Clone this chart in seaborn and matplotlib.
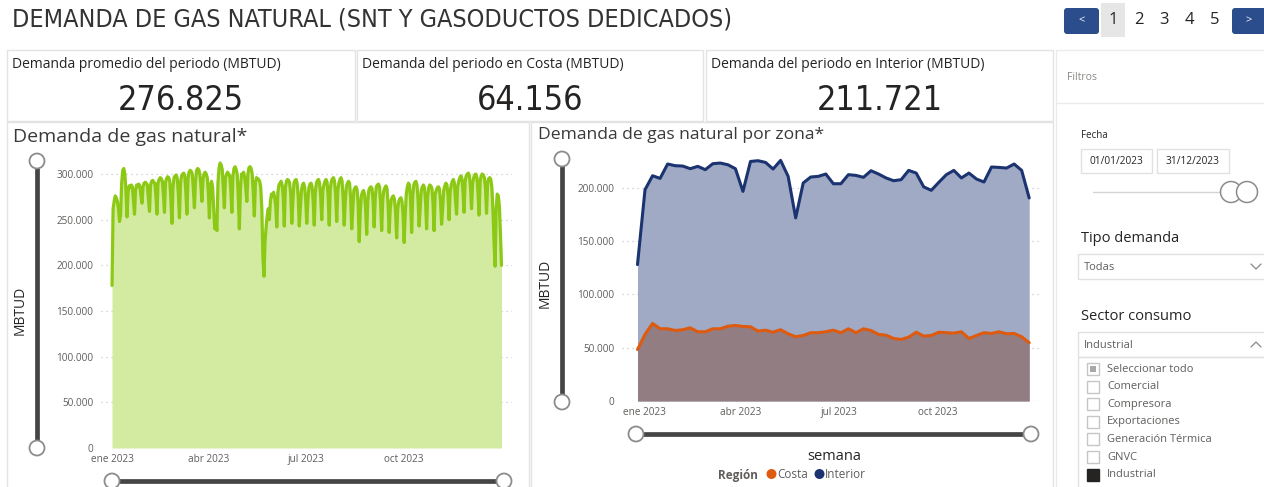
import numpy as np
import pandas as pd
import matplotlib
matplotlib.use('Agg')
import matplotlib.pyplot as plt
import seaborn as sns
from matplotlib import font_manager as fm
from matplotlib.patches import Rectangle, Circle, FancyBboxPatch
from matplotlib.lines import Line2D

# ---------------- data ----------------
titulo = "DEMANDA DE GAS NATURAL (SNT Y GASODUCTOS DEDICADOS)"
kpi_etiquetas = ["Demanda promedio del periodo (MBTUD)",
                 "Demanda del periodo en Costa (MBTUD)",
                 "Demanda del periodo en Interior (MBTUD)"]
kpi_valores = ["276.825", "64.156", "211.721"]
paginas = ["1", "2", "3", "4", "5"]

fecha_inicio = "2023-01-01"
# daily demand, thousands of MBTUD (Jan 1 .. Dec 31 2023)
demanda_diaria_k = [
    178,
    262, 270, 276, 274, 270, 262, 248,
    255, 290, 304, 306, 300, 282, 253,
    280, 287, 285, 288, 286, 272, 256,
    283, 288, 286, 289, 287, 276, 268,
    286, 290, 291, 290, 288, 274, 259,
    288, 292, 293, 291, 290, 276, 256,
    290, 294, 296, 295, 292, 278, 258,
    291, 295, 297, 296, 292, 272, 246,
    286, 296, 298, 299, 295, 278, 252,
    290, 298, 300, 301, 298, 280, 256,
    295, 302, 304, 303, 300, 284, 263,
    292, 304, 306, 305, 300, 288, 270,
    294, 300, 302, 300, 296, 280, 252,
    288, 292, 286, 262, 240, 248, 238,
    290, 306, 312, 310, 305, 285, 263,
    296, 300, 302, 300, 298, 282, 258,
    298, 306, 308, 305, 300, 275, 240,
    284, 300, 298, 302, 296, 285, 270,
    300, 307, 308, 306, 300, 280, 254,
    290, 296, 295, 294, 292, 285, 262,
    210, 188, 226, 242, 254, 262, 250,
    270, 278, 276, 280, 274, 265, 242,
    280, 288, 290, 292, 288, 275, 243,
    285, 292, 294, 293, 290, 278, 246,
    270, 290, 293, 294, 290, 275, 243,
    262, 282, 288, 290, 286, 272, 246,
    270, 285, 289, 290, 286, 270, 244,
    280, 290, 293, 294, 290, 275, 250,
    282, 288, 292, 294, 291, 275, 244,
    284, 292, 295, 296, 292, 276, 248,
    282, 290, 294, 296, 292, 274, 244,
    270, 286, 290, 292, 290, 274, 240,
    260, 282, 285, 286, 283, 268, 226,
    258, 276, 280, 282, 278, 262, 234,
    270, 282, 285, 286, 284, 270, 242,
    274, 286, 288, 289, 286, 268, 238,
    272, 282, 285, 287, 284, 266, 236,
    262, 272, 275, 276, 272, 258, 230,
    262, 270, 273, 274, 270, 255, 225,
    255, 278, 286, 290, 288, 272, 236,
    276, 288, 291, 292, 288, 272, 243,
    262, 282, 286, 288, 285, 270, 240,
    276, 285, 288, 287, 284, 268, 238,
    278, 282, 285, 286, 284, 270, 245,
    262, 282, 287, 290, 288, 276, 250,
    280, 288, 292, 294, 290, 270, 256,
    286, 292, 296, 298, 295, 280, 258,
    292, 298, 300, 301, 298, 285, 262,
    290, 296, 299, 300, 296, 280, 255,
    292, 298, 300, 299, 296, 285, 257,
    290, 295, 296, 294, 285, 260, 225,
    199, 262, 278, 276, 265, 235, 200,
]

semana_inicio = "2022-12-26"
# weekly demand by region, thousands of MBTUD
interior_k = [128.1, 198.4, 211.5, 209.0, 222.5, 220.9, 220.6, 218.1, 220.3, 217.2,
              222.8, 223.4, 221.8, 218.1, 196.8, 224.9, 225.6, 224.0, 217.8, 225.9,
              210.9, 171.9, 204.7, 210.3, 210.9, 213.1, 204.0, 204.0, 212.5, 211.8,
              210.0, 216.2, 213.1, 209.4, 206.8, 207.8, 216.5, 214.0, 201.0, 197.8,
              205.3, 212.5, 216.5, 209.4, 214.0, 208.4, 205.6, 219.7, 219.3, 218.7,
              222.5, 216.5, 190.6]
costa_k = [48.4, 62.5, 72.8, 67.8, 67.8, 66.2, 66.9, 68.7, 65.0, 65.0,
           67.8, 67.8, 70.2, 70.9, 70.0, 69.7, 65.6, 66.5, 64.6, 66.9,
           63.1, 60.3, 61.5, 64.1, 64.1, 65.0, 66.5, 64.1, 67.8, 64.1,
           67.8, 66.2, 62.5, 61.8, 58.7, 57.8, 59.9, 64.6, 60.9, 61.5,
           64.6, 64.1, 63.7, 65.0, 58.7, 61.5, 64.1, 63.4, 65.0, 63.1,
           63.4, 60.3, 54.7]
regiones = ["Costa", "Interior"]

y_ticks_izq = [0, 50000, 100000, 150000, 200000, 250000, 300000]
y_ticks_der = [0, 50000, 100000, 150000, 200000]
x_tick_fechas = ["2023-01-01", "2023-04-01", "2023-07-01", "2023-10-01"]
x_tick_etiquetas = ["ene 2023", "abr 2023", "jul 2023", "oct 2023"]

filtro_fechas = ["01/01/2023", "31/12/2023"]
tipo_demanda = "Todas"
sector_sel = "Industrial"
sectores = ["Seleccionar todo", "Comercial", "Compresora", "Exportaciones",
            "Generación Térmica", "GNVC", "Industrial"]

# ---------------- style ----------------
W, H = 1264, 487
sns.set_theme(style="white")
names = {f.name for f in fm.fontManager.ttflist}
BASE = "Open Sans" if "Open Sans" in names else "DejaVu Sans"
plt.rcParams["font.family"] = [BASE, "DejaVu Sans"]
if "Liberation Sans Narrow" in names:
    NARROW = dict(family=["Liberation Sans Narrow", "DejaVu Sans"])
else:
    NARROW = dict(family=["DejaVu Sans"], stretch="condensed")

DARK = "#252423"
GRAY = "#605E5C"
BORDER = "#E3E3E3"
GREEN = "#8CC914"
GREEN_FILL = "#D3EAA1"
NAVY = "#1B3370"
ORANGE = "#DD5A0E"
INT_FILL = "#A0AAC4"
COS_FILL = "#927D82"

fig = plt.figure(figsize=(W / 100, H / 100), dpi=100)
fig.patch.set_facecolor("white")


def ax_px(x0, y0, x1, y1, **kw):
    return fig.add_axes([x0 / W, 1 - y1 / H, (x1 - x0) / W, (y1 - y0) / H], **kw)


def fmt_miles(v):
    return f"{v:,}".replace(",", ".")


def style_axes(ax, yticks):
    for s in ax.spines.values():
        s.set_visible(False)
    ax.set_facecolor("none")
    ax.set_yticks(yticks)
    ax.set_yticklabels([fmt_miles(v) for v in yticks])
    ax.set_xticks(pd.to_datetime(x_tick_fechas))
    ax.set_xticklabels(x_tick_etiquetas)
    ax.tick_params(axis="both", length=0, labelsize=7.2, labelcolor=GRAY)
    ax.tick_params(axis="y", pad=5.5)
    ax.tick_params(axis="x", pad=4.5)
    ax.yaxis.grid(True, linestyle=(0, (1, 3)), color="#C8C8C8", linewidth=0.9)
    ax.xaxis.grid(False)
    ax.set_xlabel("")
    ax.set_ylabel("")


# ---------------- left chart ----------------
df_d = pd.DataFrame({
    "fecha": pd.date_range(fecha_inicio, periods=len(demanda_diaria_k), freq="D"),
    "demanda": np.array(demanda_diaria_k, dtype=float) * 1000,
})
axL = ax_px(101, 160, 512, 448)
axL.fill_between(df_d["fecha"], df_d["demanda"], 0, color=GREEN_FILL, linewidth=0, zorder=1)
sns.lineplot(data=df_d, x="fecha", y="demanda", ax=axL, color=GREEN, linewidth=2.3, zorder=3)
t0 = pd.Timestamp(fecha_inicio)
axL.set_xlim(t0 - pd.Timedelta(days=10.3), t0 + pd.Timedelta(days=373.8))
axL.set_ylim(0, 300000 * 288 / 274)
style_axes(axL, y_ticks_izq)

# ---------------- right chart ----------------
semanas = pd.date_range(semana_inicio, periods=len(interior_k), freq="7D")
df_w = pd.DataFrame({
    "semana": np.concatenate([semanas, semanas]),
    "Región": ["Costa"] * len(costa_k) + ["Interior"] * len(interior_k),
    "demanda": np.concatenate([costa_k, interior_k]) * 1000,
})
axR = ax_px(622, 154, 1042, 401)
axR.fill_between(semanas, np.array(interior_k) * 1000, 0, color=INT_FILL, linewidth=0, zorder=1)
axR.fill_between(semanas, np.array(costa_k) * 1000, 0, color=COS_FILL, linewidth=0, zorder=2)
sns.lineplot(data=df_w, x="semana", y="demanda", hue="Región", hue_order=regiones,
             palette={"Costa": ORANGE, "Interior": NAVY}, linewidth=2.2, legend=False,
             ax=axR, zorder=3)
axR.set_xlim(t0 - pd.Timedelta(days=20.4), t0 + pd.Timedelta(days=369.9))
axR.set_ylim(0, 231900)
style_axes(axR, y_ticks_der)

# ---------------- overlay (dashboard chrome) ----------------
ov = fig.add_axes([0, 0, 1, 1], zorder=10)
ov.set_xlim(0, W)
ov.set_ylim(H, 0)
ov.axis("off")
ov.patch.set_alpha(0)


def rect(x0, y0, x1, y1, ec=BORDER, fc="none", lw=1.0, z=1):
    ov.add_patch(Rectangle((x0, y0), x1 - x0, y1 - y0, ec=ec, fc=fc, lw=lw, zorder=z))


def hslider(x0, x1, y):
    ov.add_line(Line2D([x0, x1], [y, y], color="#454545", lw=3.4, solid_capstyle="butt", zorder=2))
    for x in (x0, x1):
        ov.add_patch(Circle((x, y), 7.5, fc="white", ec="#8C8C8C", lw=1.3, zorder=3))


def vslider(x, y0, y1):
    ov.add_line(Line2D([x, x], [y0, y1], color="#454545", lw=3.4, solid_capstyle="butt", zorder=2))
    for y in (y0, y1):
        ov.add_patch(Circle((x, y), 7.5, fc="white", ec="#8C8C8C", lw=1.3, zorder=3))


# page title
ov.text(12, 19, titulo, fontsize=18, color="#333333", va="center", ha="left", **NARROW)

# pager
ov.add_patch(FancyBboxPatch((1064, 8), 35, 26, boxstyle="round,pad=0,rounding_size=3",
                            fc="#2B4D8C", ec="none", zorder=2))
ov.text(1081.5, 20.5, "<", color="white", fontsize=8, ha="center", va="center")
rect(1101, 3, 1125, 37, ec="none", fc="#E6E6E6")
for i, p in enumerate(paginas):
    ov.text(1113 + i * 25.5, 20, p, fontsize=12, color=DARK, ha="center", va="center")
ov.add_patch(FancyBboxPatch((1232, 8), 40, 26, boxstyle="round,pad=0,rounding_size=3",
                            fc="#2B4D8C", ec="none", zorder=2))
ov.text(1249, 20.5, ">", color="white", fontsize=8, ha="center", va="center")

# KPI cards
cards = [(7, 355), (357, 703), (706, 1053)]
for (x0, x1), lab, val in zip(cards, kpi_etiquetas, kpi_valores):
    rect(x0, 50, x1, 121)
    ov.text(x0 + 5, 64, lab, fontsize=10, color=DARK, va="center", ha="left")
    ov.text((x0 + x1) / 2, 101, val, fontsize=24.5, color=DARK, va="center", ha="center", **NARROW)

# chart panels
rect(7, 122, 529, 495)
rect(531, 122, 1053, 495)
ov.text(13, 137, "Demanda de gas natural*", fontsize=14, color="#3A3A3A", va="center", ha="left")
ov.text(538, 135, "Demanda de gas natural por zona*", fontsize=12.6, color="#3A3A3A", va="center", ha="left")

vslider(37, 161, 448)
hslider(112, 504, 481)
vslider(562, 159, 402)
hslider(636, 1031, 434)

ov.text(20, 310, "MBTUD", fontsize=10, color=DARK, rotation=90, va="center", ha="center")
ov.text(545, 283, "MBTUD", fontsize=10, color=DARK, rotation=90, va="center", ha="center")
ov.text(834, 457, "semana", fontsize=10.5, color=DARK, va="center", ha="center")

# legend
ov.text(718, 475, "Región", fontsize=8.5, color=GRAY, fontweight="bold", va="center", ha="left")
ov.add_patch(Circle((771.5, 474), 5, fc=ORANGE, ec="none", zorder=3))
ov.text(777, 475, regiones[0], fontsize=8.5, color=GRAY, va="center", ha="left")
ov.add_patch(Circle((819.5, 474), 5, fc=NAVY, ec="none", zorder=3))
ov.text(825, 475, regiones[1], fontsize=8.5, color=GRAY, va="center", ha="left")

# filters panel
rect(1056, 50, 1275, 495, ec="#EBEBEB")
ov.add_line(Line2D([1056, 1264], [103, 103], color="#EBEBEB", lw=1))
ov.text(1067, 78, "Filtros", fontsize=7.5, color="#8A8886", va="center", ha="left")
ov.text(1081, 136, "Fecha", fontsize=7, color=DARK, va="center", ha="left")
rect(1081, 149, 1152, 173, ec="#E1E1E1")
rect(1157, 149, 1229, 173, ec="#E1E1E1")
ov.text(1116.5, 161, filtro_fechas[0], fontsize=7.3, color=DARK, va="center", ha="center")
ov.text(1193, 161, filtro_fechas[1], fontsize=7.3, color=DARK, va="center", ha="center")
ov.add_line(Line2D([1093, 1222], [192, 192], color="#D3D3D3", lw=1))
ov.add_patch(Circle((1231, 192), 10.5, fc="white", ec="#8C8C8C", lw=1.1, zorder=3))
ov.add_patch(Circle((1247, 192), 10.5, fc="white", ec="#8C8C8C", lw=1.1, zorder=3))

ov.text(1081, 238, "Tipo demanda", fontsize=10.5, color=DARK, va="center", ha="left")
rect(1078, 254, 1275, 279, ec="#E1E1E1")
ov.text(1084, 267, tipo_demanda, fontsize=8, color=GRAY, va="center", ha="left")
ov.add_line(Line2D([1251, 1256, 1261], [264, 269, 264], color="#8A8886", lw=0.9))

ov.text(1081, 316, "Sector consumo", fontsize=10.5, color=DARK, va="center", ha="left")
rect(1078, 332, 1275, 357, ec="#E1E1E1")
ov.text(1084, 346, sector_sel, fontsize=8, color=GRAY, va="center", ha="left")
ov.add_line(Line2D([1251, 1256, 1261], [347, 342, 347], color="#8A8886", lw=0.9))
rect(1078, 357, 1275, 495, ec="#E1E1E1")

for i, s in enumerate(sectores):
    yc = 369 + i * 17.6
    if s == sector_sel:
        rect(1087, yc - 6, 1099, yc + 6, ec=DARK, fc=DARK, z=3)
    else:
        rect(1087, yc - 6, 1099, yc + 6, ec="#C6C6C6", fc="white", z=3)
        if i == 0:
            rect(1090, yc - 3, 1096, yc + 3, ec="none", fc="#A8A8A8", z=4)
    ov.text(1107, yc, s, fontsize=8, color=GRAY, va="center", ha="left")

fig.savefig("out.png", dpi=100, facecolor="white")
